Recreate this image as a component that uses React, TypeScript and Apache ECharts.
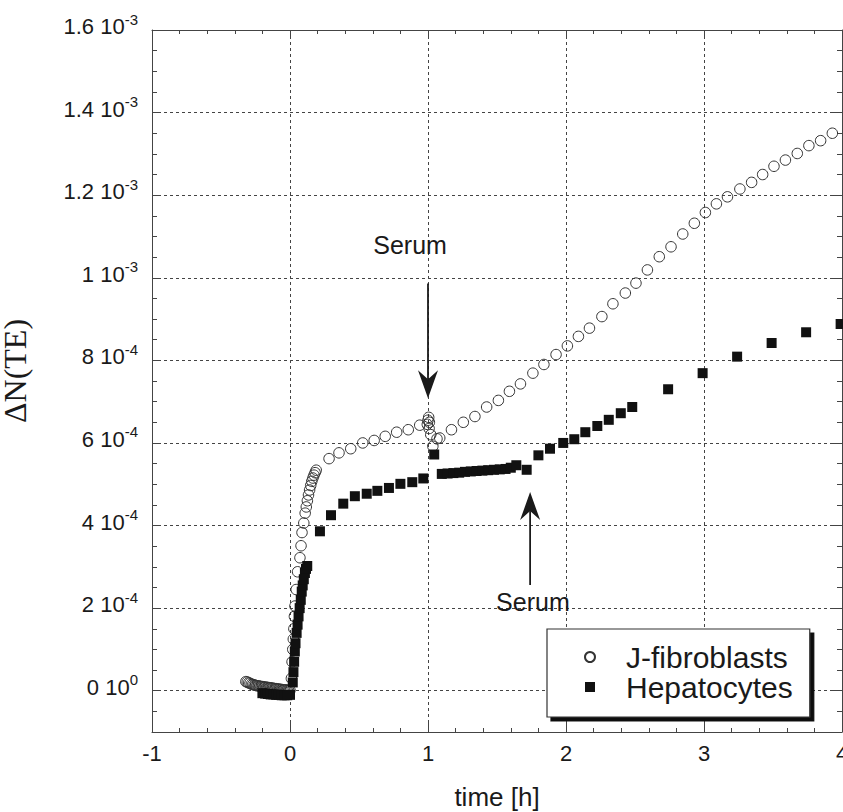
import React, { useEffect, useRef } from 'react';
import * as echarts from 'echarts';

// J-fibroblasts: time [h] and ΔN(TE) in units of 1e-4
const fibroTime = [
  -0.32, -0.31, -0.3, -0.29, -0.28, -0.27, -0.26, -0.25, -0.24, -0.23, -0.22, -0.21, -0.2, -0.19, -0.18, -0.17,
  -0.16, -0.15, -0.14, -0.13, -0.12, -0.11, -0.1, -0.09, -0.08, -0.07, -0.06, -0.05, -0.04, -0.03, -0.02, -0.01, 0.0,
  0.01, 0.015, 0.02, 0.024, 0.028, 0.032, 0.036, 0.045, 0.055, 0.072, 0.08, 0.087, 0.1, 0.11, 0.118, 0.126, 0.134,
  0.142, 0.15, 0.158, 0.166, 0.174, 0.182, 0.19, 0.283, 0.355, 0.44, 0.527, 0.61, 0.69, 0.773, 0.857, 0.94,
  0.995, 1.0, 1.005, 1.01, 1.008, 1.02, 1.035, 1.065, 1.085, 1.17, 1.256, 1.34, 1.425, 1.51, 1.59, 1.67, 1.76,
  1.84, 1.928, 2.01, 2.09, 2.17, 2.26, 2.34, 2.43, 2.507, 2.59, 2.676, 2.761, 2.846, 2.93, 3.01, 3.09, 3.17,
  3.26, 3.345, 3.425, 3.507, 3.59, 3.676, 3.76, 3.845, 3.93,
];
const fibroDN = [
  0.22, 0.21, 0.19, 0.18, 0.16, 0.15, 0.14, 0.13, 0.12, 0.12, 0.11, 0.1, 0.1, 0.09, 0.09, 0.08,
  0.08, 0.07, 0.07, 0.06, 0.06, 0.05, 0.05, 0.04, 0.04, 0.03, 0.03, 0.02, 0.02, 0.02, 0.01, 0.01, 0.01,
  0.3, 0.7, 1.0, 1.25, 1.5, 1.8, 2.05, 2.45, 2.88, 3.22, 3.51, 3.83, 4.06, 4.3, 4.45, 4.6, 4.74,
  4.86, 4.97, 5.07, 5.15, 5.22, 5.28, 5.34, 5.62, 5.76, 5.86, 6.0, 6.06, 6.16, 6.26, 6.32, 6.43,
  6.45, 6.55, 6.62, 6.5, 6.35, 6.2, 5.92, 6.1, 6.12, 6.32, 6.5, 6.64, 6.87, 7.03, 7.25, 7.43, 7.69,
  7.9, 8.14, 8.35, 8.58, 8.78, 9.06, 9.37, 9.63, 9.87, 10.19, 10.51, 10.75, 11.06, 11.32, 11.58, 11.79, 11.96,
  12.15, 12.31, 12.5, 12.7, 12.85, 13.01, 13.2, 13.32, 13.5,
];

// Hepatocytes: time [h] and ΔN(TE) in units of 1e-4
const hepTime = [
  -0.2, -0.18, -0.16, -0.14, -0.12, -0.1, -0.08, -0.06, -0.04, -0.02, 0.0,
  0.02, 0.025, 0.03, 0.035, 0.04, 0.048, 0.055, 0.062, 0.07, 0.078, 0.085, 0.092, 0.1, 0.108, 0.116, 0.125,
  0.217, 0.297, 0.386, 0.47, 0.556, 0.633, 0.717, 0.8, 0.886, 0.966, 1.045,
  1.1, 1.142, 1.184, 1.226, 1.268, 1.31, 1.352, 1.394, 1.436, 1.478, 1.52, 1.562, 1.6, 1.64, 1.715,
  1.8, 1.884, 1.98, 2.06, 2.14, 2.227, 2.31, 2.397, 2.48, 2.74, 2.99, 3.24, 3.49, 3.74, 3.99,
];
const hepDN = [
  -0.06, -0.07, -0.08, -0.09, -0.09, -0.1, -0.1, -0.11, -0.11, -0.11, -0.1,
  0.2, 0.45, 0.7, 0.95, 1.15, 1.4, 1.6, 1.8, 2.0, 2.2, 2.4, 2.55, 2.7, 2.85, 2.95, 3.02,
  3.86, 4.25, 4.53, 4.71, 4.77, 4.84, 4.91, 5.01, 5.05, 5.14, 5.72,
  5.25, 5.26, 5.27, 5.28, 5.3, 5.31, 5.32, 5.33, 5.34, 5.35, 5.36, 5.37, 5.4, 5.46, 5.35,
  5.7, 5.86, 6.0, 6.09, 6.26, 6.41, 6.56, 6.72, 6.87, 7.3, 7.69, 8.09, 8.42, 8.68, 8.88,
];

// Y tick labels (value in 1e-4 units -> "mantissa 10^exponent")
const yTicks = [0, 2, 4, 6, 8, 10, 12, 14, 16];
const yMantissa = ['0', '2', '4', '6', '8', '1', '1.2', '1.4', '1.6'];
const yExponent = ['0', '-4', '-4', '-4', '-4', '-3', '-3', '-3', '-3'];

// "Serum" annotations
const serumArrowX = [1.0, 1.74];
const serumArrowTail = [9.86, 2.56];
const serumArrowTip = [7.08, 4.81];
const serumLabelX = [0.87, 1.76];
const serumLabelY = [10.8, 2.15];
const serumText = ['Serum', 'Serum'];

const SANS = 'Liberation Sans, Arial, Helvetica, sans-serif';
const SERIF = 'Liberation Serif, Times New Roman, serif';
const INK = '#1a1a1a';
const AXIS = '#444';

export default function App() {
  const ref = useRef<HTMLDivElement>(null);

  useEffect(() => {
    document.body.style.margin = '0';
    if (!ref.current) return;
    const chart = echarts.init(ref.current, undefined, { renderer: 'svg' });

    const commonX = {
      type: 'value',
      min: -1,
      max: 4,
      interval: 1,
      axisLine: { show: true, onZero: false, lineStyle: { color: AXIS, width: 1 } },
      axisTick: { show: true, inside: true, length: 9, lineStyle: { color: AXIS, width: 1 } },
      minorTick: { show: true, splitNumber: 5, length: 4, lineStyle: { color: AXIS, width: 1 } },
    };
    const commonY = {
      type: 'value',
      min: -1,
      max: 16,
      splitNumber: 8,
      minInterval: 2,
      maxInterval: 2,
      axisLine: { show: true, onZero: false, lineStyle: { color: AXIS, width: 1 } },
      axisTick: { show: true, inside: true, length: 9, lineStyle: { color: AXIS, width: 1 } },
      minorTick: { show: true, splitNumber: 4, length: 5, lineStyle: { color: AXIS, width: 1 } },
    };

    const arrowData = serumArrowX.map((x, i) => [x, serumArrowTail[i], serumArrowTip[i], serumLabelX[i], serumLabelY[i]]);

    chart.setOption({
      animation: false,
      backgroundColor: '#fff',
      grid: { left: 152, right: 1, top: 30, bottom: 80, containLabel: false, outerBoundsMode: 'none' },
      xAxis: [
        {
          ...commonX,
          position: 'bottom',
          axisLabel: { fontSize: 22, color: INK, margin: 10, fontFamily: SANS },
          splitLine: { show: true, lineStyle: { color: AXIS, type: [3, 3], width: 1 } },
          name: 'time [h]',
          nameLocation: 'middle',
          nameGap: 52,
          nameTextStyle: { fontSize: 26, color: INK, fontFamily: SANS },
        },
        {
          ...commonX,
          position: 'top',
          axisLabel: { show: false },
          splitLine: { show: false },
        },
      ],
      yAxis: [
        {
          ...commonY,
          position: 'left',
          axisLabel: {
            margin: 14,
            padding: [0, 0, 7, 0],
            formatter: (v: number) => {
              const i = yTicks.indexOf(v);
              if (i < 0) return '';
              return `{b|${yMantissa[i]} 10}{s|${yExponent[i]}}`;
            },
            rich: {
              b: { fontSize: 22, fontFamily: SANS, color: INK, lineHeight: 30 },
              s: { fontSize: 15, fontFamily: SANS, color: INK, lineHeight: 15, verticalAlign: 'top' },
            },
          },
          splitLine: { show: true, lineStyle: { color: AXIS, type: [3, 3], width: 1 } },
          name: 'ΔN(TE)',
          nameLocation: 'middle',
          nameGap: 121,
          nameTextStyle: { fontSize: 32, color: INK, fontFamily: SERIF, padding: [0, 0, 0, 20] },
        },
        {
          ...commonY,
          position: 'right',
          axisLabel: { show: false },
          splitLine: { show: false },
        },
      ],
      legend: {
        data: ['J-fibroblasts', 'Hepatocytes'],
        orient: 'vertical',
        left: 547,
        top: 629,
        padding: [13, 17, 15, 37],
        itemWidth: 10,
        itemHeight: 10,
        itemGap: 0,
        selectedMode: false,
        backgroundColor: '#fff',
        borderColor: '#333',
        borderWidth: 1.2,
        shadowColor: '#111',
        shadowBlur: 0,
        shadowOffsetX: 4,
        shadowOffsetY: 4,
        textStyle: { fontSize: 30, fontFamily: SANS, color: INK, lineHeight: 27, padding: [0, 0, 0, 26] },
      },
      series: [
        {
          name: 'J-fibroblasts',
          type: 'scatter',
          xAxisIndex: 0,
          yAxisIndex: 0,
          data: fibroTime.map((t, i) => [t, fibroDN[i]]),
          symbol: 'circle',
          symbolSize: 10.5,
          itemStyle: { color: 'rgba(255,255,255,0)', borderColor: '#333', borderWidth: 1, opacity: 1 },
          emphasis: { disabled: true },
        },
        {
          name: 'Hepatocytes',
          type: 'scatter',
          xAxisIndex: 0,
          yAxisIndex: 0,
          data: hepTime.map((t, i) => [t, hepDN[i]]),
          symbol: 'rect',
          symbolSize: 10,
          itemStyle: { color: '#111', opacity: 1 },
          emphasis: { disabled: true },
        },
        {
          name: 'serum',
          type: 'custom',
          xAxisIndex: 0,
          yAxisIndex: 0,
          silent: true,
          data: arrowData,
          encode: { x: 0, y: 1 },
          renderItem: (params: any, api: any) => {
            const x = api.value(0);
            const p0 = api.coord([x, api.value(1)]);
            const p1 = api.coord([x, api.value(2)]);
            const pl = api.coord([api.value(3), api.value(4)]);
            const dir = p1[1] > p0[1] ? 1 : -1;
            const headLen = 28;
            const notch = 19;
            const half = 10;
            return {
              type: 'group',
              children: [
                {
                  type: 'line',
                  shape: { x1: p0[0], y1: p0[1], x2: p1[0], y2: p1[1] - dir * notch },
                  style: { stroke: INK, lineWidth: 1.8 },
                },
                {
                  type: 'polygon',
                  shape: {
                    points: [
                      [p1[0], p1[1]],
                      [p1[0] - half, p1[1] - dir * headLen],
                      [p1[0], p1[1] - dir * notch],
                      [p1[0] + half, p1[1] - dir * headLen],
                    ],
                  },
                  style: { fill: INK },
                },
                {
                  type: 'text',
                  x: pl[0],
                  y: pl[1],
                  style: {
                    text: serumText[params.dataIndex],
                    fontSize: 25,
                    fontFamily: SANS,
                    fill: INK,
                    align: 'center',
                    verticalAlign: 'middle',
                  },
                },
              ],
            };
          },
        },
      ],
    });

    return () => chart.dispose();
  }, []);

  return <div ref={ref} style={{ width: 843, height: 812 }} />;
}
